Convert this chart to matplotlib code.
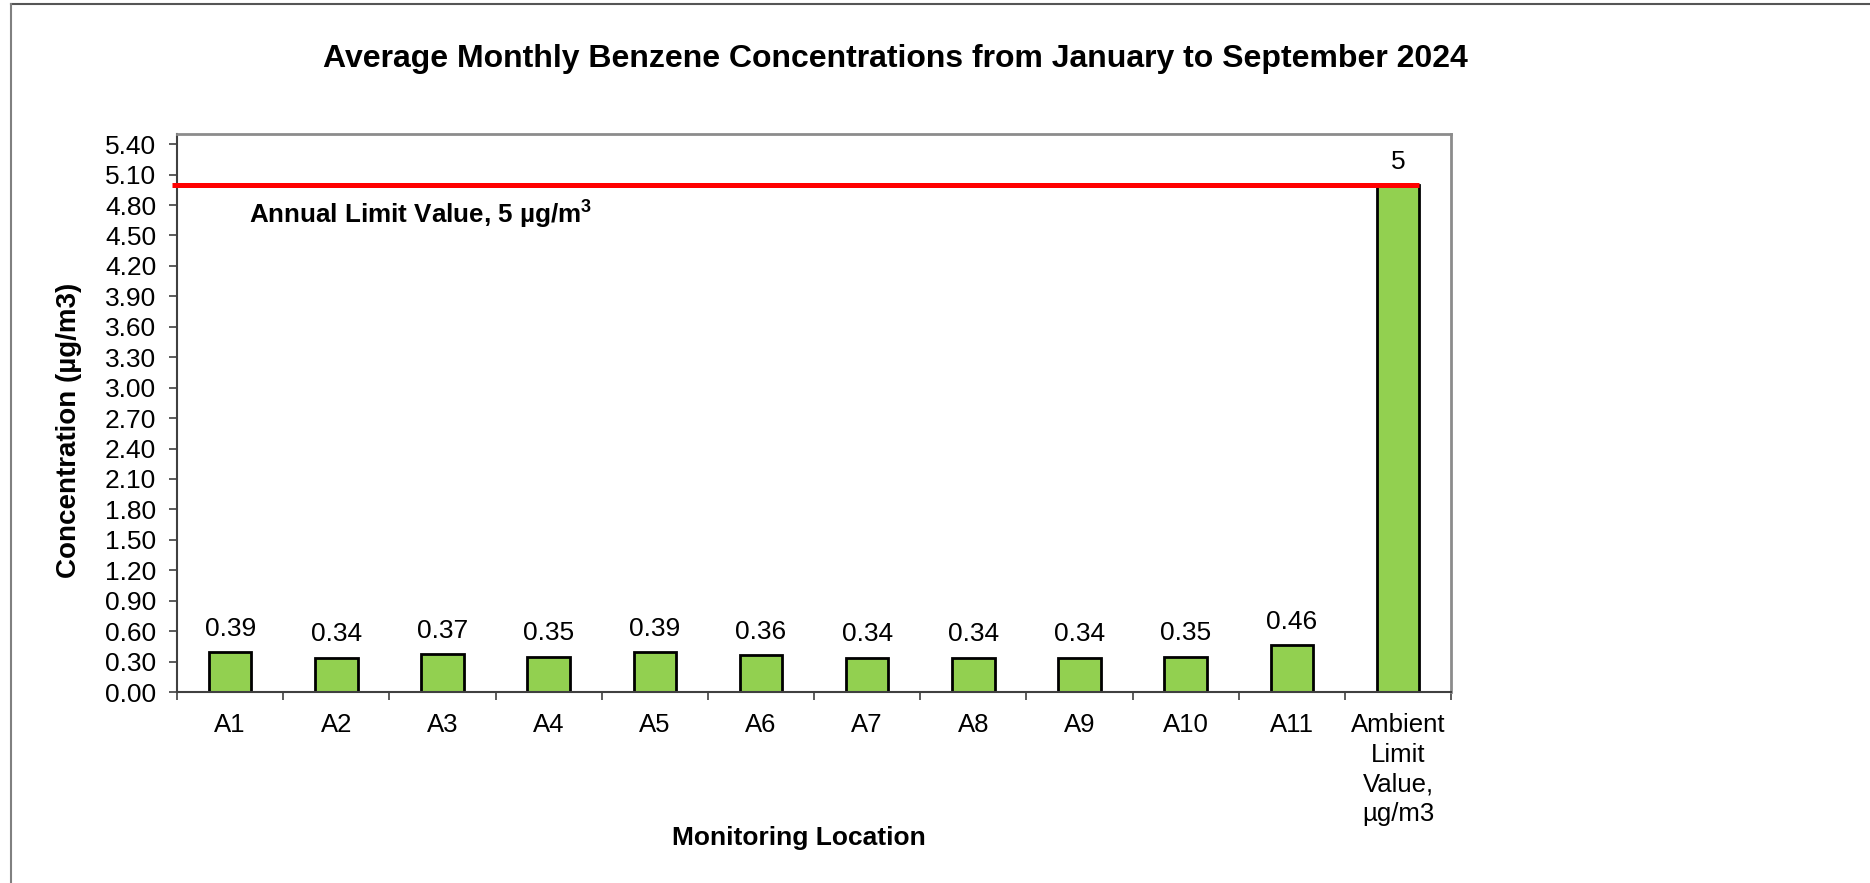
import numpy as np
import matplotlib
matplotlib.use('Agg')
import matplotlib.pyplot as plt
from matplotlib.lines import Line2D

plt.rcParams['font.family'] = ['Liberation Sans', 'DejaVu Sans']
plt.rcParams['mathtext.fontset'] = 'custom'
plt.rcParams['mathtext.rm'] = 'Liberation Sans'
plt.rcParams['mathtext.bf'] = 'Liberation Sans:bold'

# Данные
locations = ['A1', 'A2', 'A3', 'A4', 'A5', 'A6', 'A7', 'A8', 'A9', 'A10', 'A11',
             'Ambient\nLimit\nValue,\nµg/m3']
concentration = [0.39, 0.34, 0.37, 0.35, 0.39, 0.36, 0.34, 0.34, 0.34, 0.35, 0.46, 5]
value_labels = ['0.39', '0.34', '0.37', '0.35', '0.39', '0.36', '0.34', '0.34',
                '0.34', '0.35', '0.46', '5']
limit_value = 5
y_ticks = np.arange(0, 5.41, 0.3)

fig = plt.figure(figsize=(18.7, 8.83), dpi=100)
ax = fig.add_axes([0.0947, 0.2163, 0.6813, 0.6319])

x = np.arange(len(locations))
ax.bar(x, concentration, width=0.4, color='#92D050', edgecolor='black', linewidth=2, zorder=2)

# Линия предельного значения
ax.plot([-0.55, 11.2], [limit_value, limit_value], color='#FF0000', linewidth=3.6,
        solid_capstyle='butt', clip_on=False, zorder=3)
ax.text(0.18, 4.63, 'Annual Limit Value, 5 µg/m$^{\\mathbf{3}}$', fontsize=18.7,
        fontweight='bold', ha='left', va='baseline')

# Подписи значений
for xi, val, lab in zip(x, concentration, value_labels):
    ax.annotate(lab, (xi, val), xytext=(0, 8), textcoords='offset points',
                ha='center', va='bottom', fontsize=19)

ax.set_xlim(-0.5, len(locations) - 0.5)
ax.set_ylim(0, 5.5)
ax.set_yticks(y_ticks)
ax.set_yticklabels([f'{v:.2f}' for v in y_ticks])
ax.set_xticks(x)
ax.set_xticklabels(locations, linespacing=1.3)
ax.set_xticks(np.arange(-0.5, len(locations)), minor=True)
ax.tick_params(axis='x', which='major', length=0, pad=15, labelsize=18.5)
ax.tick_params(axis='x', which='minor', length=6, width=1.2, color='#404040', direction='out')
ax.tick_params(axis='y', length=6, width=1.2, color='#404040', pad=9, labelsize=19)

for s in ['left', 'bottom']:
    ax.spines[s].set_color('#404040')
    ax.spines[s].set_linewidth(1.5)
for s in ['top', 'right']:
    ax.spines[s].set_color('#8C8C8C')
    ax.spines[s].set_linewidth(2)

fig.text(0.479, 0.924, 'Average Monthly Benzene Concentrations from January to September 2024',
         ha='center', va='baseline', fontsize=23, fontweight='bold')
fig.text(0.4272, 0.051, 'Monitoring Location', ha='center', va='center',
         fontsize=19, fontweight='bold')
fig.text(0.037, 0.513, 'Concentration (µg/m3)', ha='center', va='center',
         rotation=90, fontsize=20, fontweight='bold')

# Рамка
fig.add_artist(Line2D([0.0058, 1], [0.9955, 0.9955], color='#555555', linewidth=1.5))
fig.add_artist(Line2D([0.0058, 0.0058], [0, 0.9955], color='#808080', linewidth=1.5))

fig.savefig('out.png', dpi=100)
